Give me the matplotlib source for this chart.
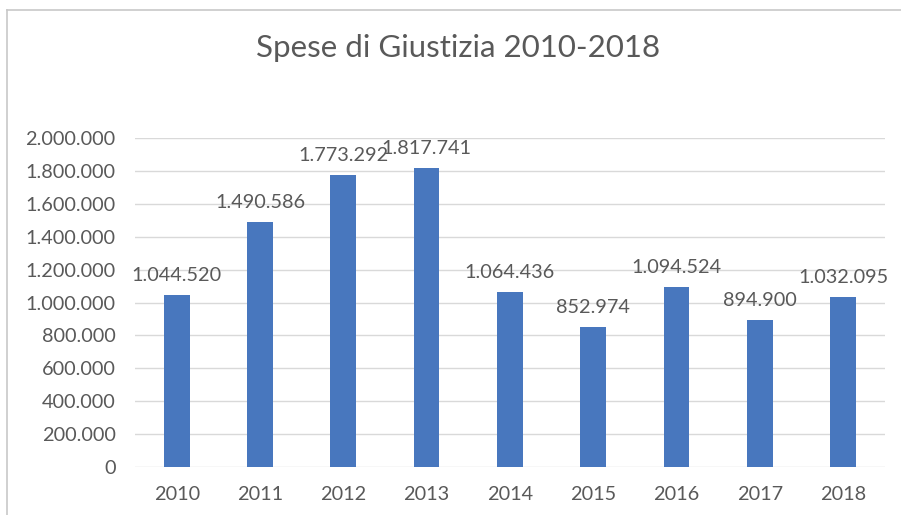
import matplotlib
matplotlib.use("Agg")
import matplotlib.pyplot as plt
from matplotlib.ticker import FuncFormatter, MultipleLocator
from matplotlib.lines import Line2D

years = ["2010", "2011", "2012", "2013", "2014", "2015", "2016", "2017", "2018"]
spese = [1044520, 1490586, 1773292, 1817741, 1064436, 852974, 1094524, 894900, 1032095]
title = "Spese di Giustizia 2010-2018"


def it_format(v):
    # Italian thousands separator
    return f"{int(round(v)):,}".replace(",", ".")


plt.rcParams["font.family"] = ["Lato", "DejaVu Sans"]
text_color = "#595959"
bar_color = "#4877BE"
grid_color = "#D9D9D9"

fig = plt.figure(figsize=(9.01, 5.15), dpi=100)
ax = fig.add_axes([0.1498, 0.0932, 0.8322, 0.6388])

x = list(range(len(years)))
ax.bar(x, spese, width=0.31, color=bar_color, zorder=3)

for xi, v in zip(x, spese):
    ax.annotate(it_format(v), (xi, v), xytext=(0, 10), textcoords="offset points",
                ha="center", va="baseline", fontsize=14.3, color=text_color,
                annotation_clip=False, zorder=4)

ax.set_xlim(-0.5, len(years) - 0.5)
ax.set_ylim(0, 2000000)
ax.yaxis.set_major_locator(MultipleLocator(200000))
ax.yaxis.set_major_formatter(FuncFormatter(lambda v, p: it_format(v)))
ax.set_xticks(x)
ax.set_xticklabels(years)

ax.grid(axis="y", color=grid_color, linewidth=1.0, zorder=0)
for s in ax.spines.values():
    s.set_visible(False)
ax.tick_params(axis="both", length=0, labelsize=14.3, labelcolor=text_color)
ax.tick_params(axis="y", pad=14)
ax.tick_params(axis="x", pad=14)

fig.text(0.508, 0.907, title, ha="center", va="center", fontsize=22.5, color=text_color)

# outer chart frame (top and left edges)
fig.add_artist(Line2D([0.008, 1.0], [0.981, 0.981], transform=fig.transFigure,
                      color="#C8C8C8", linewidth=1.2))
fig.add_artist(Line2D([0.008, 0.008], [0.0, 0.981], transform=fig.transFigure,
                      color="#C8C8C8", linewidth=1.2))

fig.savefig("out.png", dpi=100)
